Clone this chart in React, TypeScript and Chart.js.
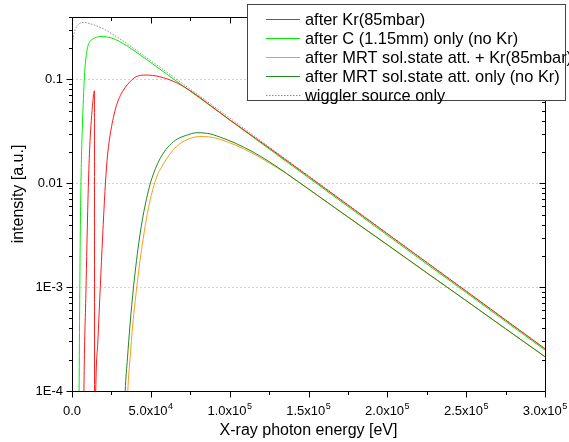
import React, { useEffect, useRef } from "react";
import { Chart, registerables } from "chart.js";
Chart.register(...registerables);

// ---------- data (photon energy in eV, intensity in a.u.) ----------
const redE = [7300, 7560, 8830, 10100, 11050, 12010, 12960, 13790, 14230, 14330, 15060, 16450, 17920, 19440, 20900, 22170, 23440, 24710, 26300, 28210, 30110, 32650, 35190, 37730, 40720, 43450, 47080, 51080, 55530, 66140, 76680, 85200, 100000, 125000, 150000, 175000, 200000, 225000, 250000, 275000, 300000];
const redI = [3e-5, 1e-4, 8.87e-4, 6.7e-3, 0.0192, 0.0355, 0.055, 0.0731, 0.0776, 1e-5, 1e-4, 3.1e-4, 9.9e-4, 3.1e-3, 8.34e-3, 0.0162, 0.0245, 0.0325, 0.0432, 0.0562, 0.067, 0.0789, 0.0891, 0.0982, 0.1062, 0.1092, 0.110, 0.109, 0.1062, 0.093, 0.0747, 0.060, 0.0408, 0.0219, 0.01164, 0.00616, 0.00326, 0.001725, 0.000914, 0.000482, 0.000255];

const greenE = [4300, 4510, 4890, 5270, 5650, 6100, 6610, 7240, 7880, 8510, 9150, 10100, 11370, 13150, 15500, 18490, 25000, 30000, 40000, 50000, 60000, 70000, 80000, 100000, 125000, 150000, 175000, 200000, 225000, 250000, 275000, 300000];
const greenI = [3e-5, 1e-4, 7.46e-4, 3.47e-3, 9.3e-3, 0.02, 0.0362, 0.0655, 0.106, 0.144, 0.176, 0.2096, 0.232, 0.244, 0.254, 0.259, 0.25, 0.232, 0.186, 0.145, 0.1125, 0.0873, 0.0677, 0.0406, 0.0214, 0.01132, 0.00598, 0.00316, 0.00167, 0.000887, 0.000468, 0.000248];

const orangeE = [34700, 35390, 36850, 38500, 41100, 43140, 45110, 47390, 49680, 51970, 54250, 56800, 59970, 63970, 68230, 72490, 76490, 80940, 87290, 93650, 103800, 114800, 125400, 136000, 150000, 175000, 200000, 225000, 250000, 275000, 300000];
const orangeI = [5e-5, 1e-4, 2.09e-4, 4.31e-4, 1e-3, 1.8e-3, 2.91e-3, 4.72e-3, 7.0e-3, 9.5e-3, 0.0121, 0.01426, 0.01718, 0.0207, 0.02388, 0.02606, 0.02748, 0.02815, 0.02792, 0.02649, 0.02323, 0.01931, 0.01557, 0.01237, 0.00877, 0.00472, 0.002546, 0.001368, 0.00074, 0.000396, 0.000213];

const darkE = [33000, 33730, 35200, 36780, 39010, 40910, 42820, 45040, 47270, 49490, 51710, 54250, 57430, 61880, 66960, 72490, 78840, 86020, 93650, 103800, 114800, 125400, 136000, 150000, 175000, 200000, 225000, 250000, 275000, 300000];
const darkI = [5e-5, 1e-4, 2.09e-4, 4.31e-4, 1e-3, 1.8e-3, 2.97e-3, 4.82e-3, 7.08e-3, 9.73e-3, 0.01237, 0.01541, 0.01897, 0.0232, 0.0267, 0.0289, 0.0306, 0.0302, 0.0279, 0.0242, 0.0200, 0.0160, 0.01245, 0.00881, 0.00474, 0.00256, 0.001374, 0.000741, 0.000398, 0.000214];

const grayE = [300, 600, 1200, 2000, 3000, 4500, 6000, 8000, 10000, 14000, 20000, 30000, 40000, 50000, 60000, 70000, 80000, 100000, 125000, 150000, 175000, 200000, 225000, 250000, 275000, 300000];
const grayI = [0.21, 0.235, 0.27, 0.30, 0.325, 0.343, 0.352, 0.353, 0.348, 0.334, 0.306, 0.247, 0.194, 0.1512, 0.1176, 0.0912, 0.0708, 0.0425, 0.0224, 0.0118, 0.00624, 0.00329, 0.00174, 0.00092, 0.000485, 0.000256];

const seriesLabels = [
  "after Kr(85mbar)",
  "after C (1.15mm) only (no Kr)",
  "after MRT sol.state att. + Kr(85mbar)",
  "after MRT sol.state att. only (no Kr)",
  "wiggler source only",
];
const seriesColors = ["#ff1a1a", "#00ee00", "#ff9a1a", "#1f8a1f", "#8c8c8c"];

// ---------- axes ----------
const xMajorTicks = [0, 50000, 100000, 150000, 200000, 250000, 300000];
const xMinorTicks = [25000, 75000, 125000, 175000, 225000, 275000];
const xTickMantissa = ["0.0", "5.0x10", "1.0x10", "1.5x10", "2.0x10", "2.5x10", "3.0x10"];
const xTickExp = ["", "4", "5", "5", "5", "5", "5"];
const yMajorTicks = [1e-4, 1e-3, 1e-2, 1e-1];
const yMajorLabels = ["1E-4", "1E-3", "0.01", "0.1"];
const yMinorTicks = [
  2e-4, 3e-4, 4e-4, 5e-4, 6e-4, 7e-4, 8e-4, 9e-4,
  2e-3, 3e-3, 4e-3, 5e-3, 6e-3, 7e-3, 8e-3, 9e-3,
  2e-2, 3e-2, 4e-2, 5e-2, 6e-2, 7e-2, 8e-2, 9e-2,
  0.2, 0.3, 0.4,
];
const xTitle = "X-ray photon energy [eV]";
const yTitle = "intensity [a.u.]";

const FONT = '"Liberation Sans", Arial, sans-serif';

const pts = (e: number[], v: number[]) => e.map((x, i) => ({ x, y: v[i] }));

const framePlugin = {
  id: "frameAndLegend",
  afterDraw(chart: any) {
    const ctx = chart.ctx as CanvasRenderingContext2D;
    const { left, right, top, bottom } = chart.chartArea;
    const xs = chart.scales.x;
    const ys = chart.scales.y;
    const L = Math.round(left) + 0.5;
    const R = Math.round(right) + 0.5;
    const T = Math.round(top) + 0.5;
    const B = Math.round(bottom) + 0.5;
    ctx.save();
    ctx.strokeStyle = "#000";
    ctx.lineWidth = 1;
    ctx.setLineDash([]);
    ctx.beginPath();
    ctx.rect(L, T, R - L, B - T);
    ctx.stroke();

    const major = 6;
    const minor = 3.5;
    ctx.beginPath();
    const xt = (v: number, len: number) => {
      const px = Math.round(xs.getPixelForValue(v)) + 0.5;
      ctx.moveTo(px, B);
      ctx.lineTo(px, B + len);
      ctx.moveTo(px, T);
      ctx.lineTo(px, T + len);
    };
    const yt = (v: number, len: number) => {
      const py = Math.round(ys.getPixelForValue(v)) + 0.5;
      ctx.moveTo(L - len, py);
      ctx.lineTo(L, py);
      ctx.moveTo(R - len, py);
      ctx.lineTo(R, py);
    };
    xMajorTicks.forEach((v) => xt(v, major));
    xMinorTicks.forEach((v) => xt(v, minor));
    yMajorTicks.forEach((v) => yt(v, major));
    yMinorTicks.forEach((v) => yt(v, minor));
    ctx.stroke();

    // x tick labels with superscript exponent
    ctx.fillStyle = "#000";
    ctx.textBaseline = "alphabetic";
    ctx.textAlign = "left";
    xMajorTicks.forEach((v, i) => {
      const px = xs.getPixelForValue(v);
      ctx.font = `13px ${FONT}`;
      const w1 = ctx.measureText(xTickMantissa[i]).width;
      ctx.font = `9px ${FONT}`;
      const w2 = xTickExp[i] ? ctx.measureText(xTickExp[i]).width + 0.5 : 0;
      const start = px - (w1 + w2) / 2;
      ctx.font = `13px ${FONT}`;
      ctx.fillText(xTickMantissa[i], start, B + 23);
      if (xTickExp[i]) {
        ctx.font = `9px ${FONT}`;
        ctx.fillText(xTickExp[i], start + w1 + 0.5, B + 17);
      }
    });

    // axis titles
    ctx.font = `16px ${FONT}`;
    ctx.textAlign = "center";
    ctx.fillText(xTitle, (left + right) / 2, B + 43);
    ctx.save();
    ctx.translate(23, 194);
    ctx.rotate(-Math.PI / 2);
    ctx.fillText(yTitle, 0, 0);
    ctx.restore();

    // legend
    const bx = 247.5, by = 4.5, bw = 318, bh = 96;
    ctx.fillStyle = "#ffffff";
    ctx.fillRect(bx, by, bw, bh);
    ctx.strokeStyle = "#444444";
    ctx.strokeRect(bx, by, bw, bh);
    ctx.font = `16.4px ${FONT}`;
    ctx.textAlign = "left";
    ctx.textBaseline = "middle";
    seriesLabels.forEach((label, i) => {
      const yy = 19 + i * 19;
      ctx.fillStyle = seriesColors[i];
      if (i === 4) {
        for (let xx = 266; xx < 300; xx += 3) ctx.fillRect(xx, yy, 1.5, 1);
      } else {
        ctx.fillRect(266, yy, 34, 1);
      }
      ctx.fillStyle = "#000000";
      ctx.fillText(label, 305, yy + 1.5);
    });
    ctx.restore();
  },
};

export default function App() {
  const ref = useRef<HTMLCanvasElement | null>(null);
  useEffect(() => {
    if (!ref.current) return;
    const common = {
      borderWidth: 1,
      pointRadius: 0,
      fill: false,
      cubicInterpolationMode: "monotone" as const,
    };
    const chart = new Chart(ref.current, {
      type: "line",
      data: {
        datasets: [
          { ...common, label: seriesLabels[0], data: pts(redE, redI), borderColor: seriesColors[0], order: 0 },
          { ...common, label: seriesLabels[1], data: pts(greenE, greenI), borderColor: seriesColors[1], order: 1 },
          { ...common, label: seriesLabels[2], data: pts(orangeE, orangeI), borderColor: seriesColors[2], order: 3 },
          { ...common, label: seriesLabels[3], data: pts(darkE, darkI), borderColor: seriesColors[3], order: 2 },
          { ...common, label: seriesLabels[4], data: pts(grayE, grayI), borderColor: seriesColors[4], borderDash: [1.5, 1.5], order: 4 },
        ],
      },
      options: {
        animation: false,
        responsive: false,
        devicePixelRatio: 1,
        layout: { padding: { top: 13, right: 24, left: 0, bottom: 0 } },
        plugins: { legend: { display: false }, tooltip: { enabled: false }, title: { display: false } },
        scales: {
          x: {
            type: "linear",
            min: 0,
            max: 300000,
            grid: { display: false },
            border: { display: false },
            ticks: { display: false },
            afterFit: (s: any) => { s.height = 51; },
          },
          y: {
            type: "logarithmic",
            min: 1e-4,
            max: 0.4,
            afterBuildTicks: (s: any) => { s.ticks = yMajorTicks.map((v) => ({ value: v })); },
            afterFit: (s: any) => { s.width = 72; },
            grid: {
              drawTicks: false,
              color: (c: any) => (c.tick && c.tick.value > 2e-4 ? "#d4d4d4" : "rgba(0,0,0,0)"),
              lineWidth: 1,
            },
            border: { display: false, dash: [2, 2] },
            ticks: {
              padding: 9,
              color: "#000",
              font: { family: FONT, size: 13 },
              callback: (v: any) => {
                const idx = yMajorTicks.findIndex((t) => Math.abs(t - Number(v)) / t < 1e-6);
                return idx >= 0 ? yMajorLabels[idx] : "";
              },
            },
          },
        },
      } as any,
      plugins: [framePlugin],
    });
    return () => chart.destroy();
  }, []);
  return (
    <canvas
      ref={ref}
      width={569}
      height={442}
      style={{ position: "fixed", left: 0, top: 0, width: 569, height: 442 }}
    />
  );
}
